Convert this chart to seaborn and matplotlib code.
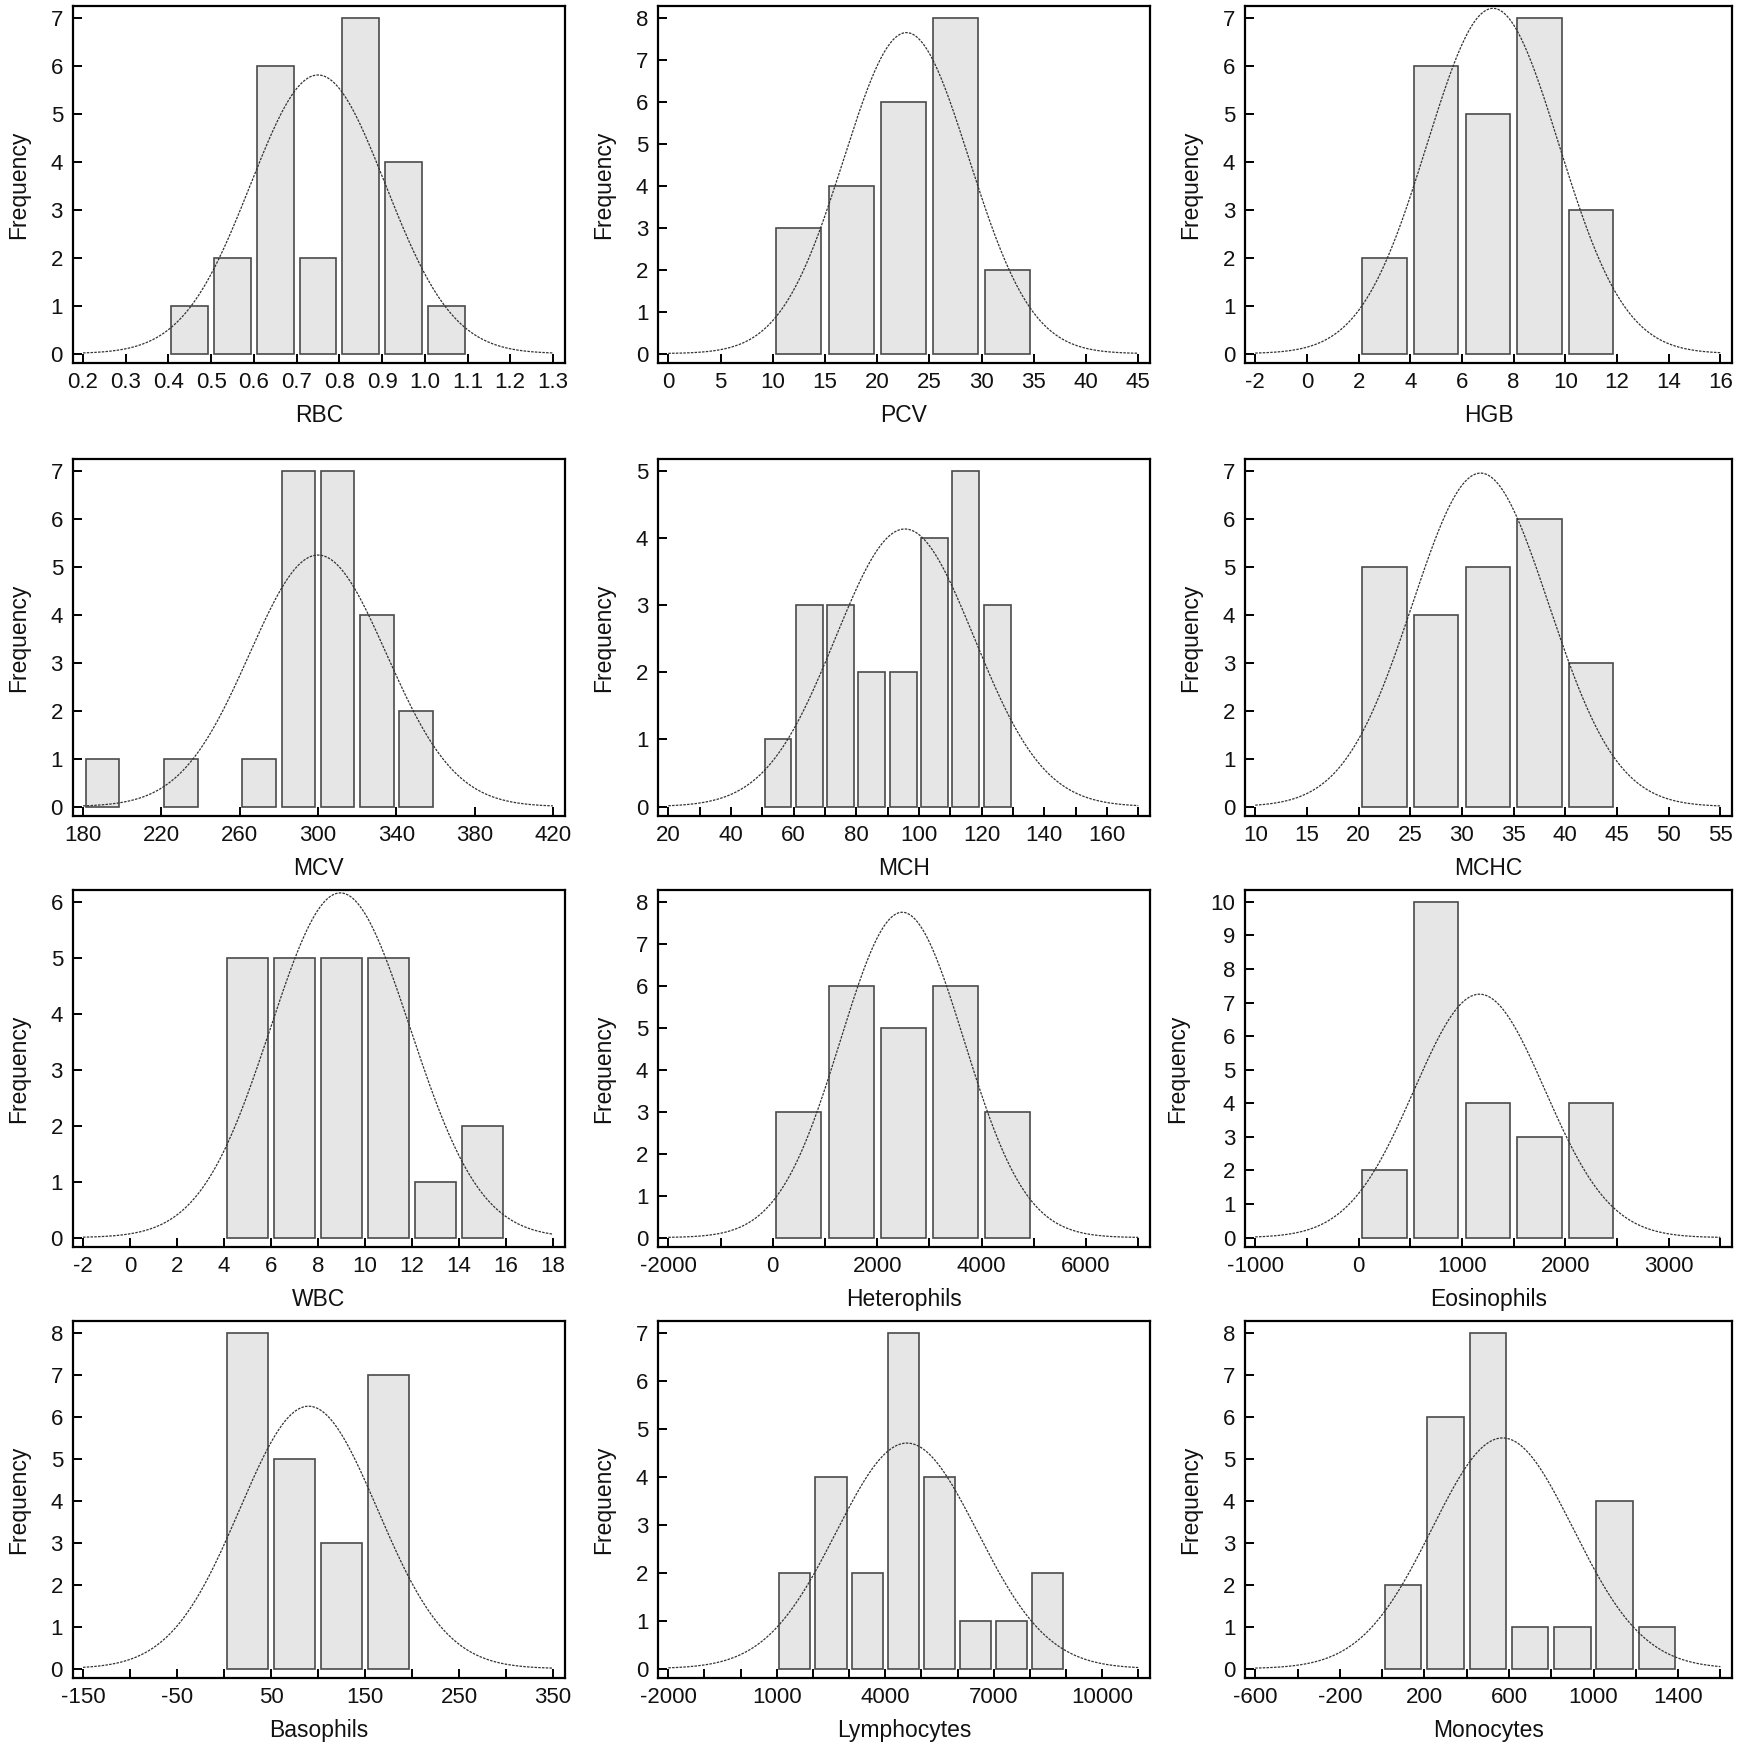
import numpy as np
import pandas as pd
import seaborn as sns
import matplotlib.pyplot as plt

# panel order: row by row, left to right
variables = ["RBC", "PCV", "HGB",
             "MCV", "MCH", "MCHC",
             "WBC", "Heterophils", "Eosinophils",
             "Basophils", "Lymphocytes", "Monocytes"]

# histogram bins: first edge and width, then the counts
bin_starts = [0.4, 10, 2, 180, 50, 20, 4, 0, 0, 0, 1000, 0]
bin_widths = [0.1, 5, 2, 20, 10, 5, 2, 1000, 500, 50, 1000, 200]
counts = [
    [1, 2, 6, 2, 7, 4, 1],
    [3, 4, 6, 8, 2],
    [2, 6, 5, 7, 3],
    [1, 0, 1, 0, 1, 7, 7, 4, 2],
    [1, 3, 3, 2, 2, 4, 5, 3],
    [5, 4, 5, 6, 3],
    [5, 5, 5, 5, 1, 2],
    [3, 6, 5, 6, 3],
    [2, 10, 4, 3, 4],
    [8, 5, 3, 7],
    [2, 4, 2, 7, 4, 1, 1, 2],
    [2, 6, 8, 1, 1, 4, 1],
]

# fitted normal curve (mean, sd) estimated from the drawn curves
fit_means = [0.75, 22.8, 7.2, 300, 95.5, 31.8, 8.95, 2480, 1170, 90, 4600, 570]
fit_sds = [0.158, 6.0, 2.55, 35.0, 22.2, 6.6, 2.98, 1184, 633, 73.4, 1952, 334]

# x ticks: first, last, step between tick marks, step between labels
xtick_lo = [0.2, 0, -2, 180, 20, 10, -2, -2000, -1000, -150, -2000, -600]
xtick_hi = [1.3, 45, 16, 420, 170, 55, 18, 7000, 3500, 350, 11000, 1600]
xtick_step = [0.1, 5, 2, 40, 10, 5, 2, 1000, 500, 50, 1000, 200]
xlabel_step = [0.1, 5, 2, 40, 20, 5, 2, 2000, 1000, 100, 3000, 400]
ytop = [7, 8, 7, 7, 5, 7, 6, 8, 10, 8, 7, 8]

W, H = 1750, 1748
col_left = [72.7, 658, 1245]
col_width = [492, 492, 487]
row_top = [6, 459, 890, 1321]
ax_h = 357

sns.set_style("ticks")
plt.rcParams["font.family"] = ["Liberation Sans", "DejaVu Sans"]

fig = plt.figure(figsize=(W / 100, H / 100), dpi=100)

for i, name in enumerate(variables):
    r, c = divmod(i, 3)
    ax = fig.add_axes([col_left[c] / W, 1 - (row_top[r] + ax_h) / H, col_width[c] / W, ax_h / H])

    n = len(counts[i])
    w = bin_widths[i]
    edges = [bin_starts[i] + w * k for k in range(n + 1)]
    df = pd.DataFrame({"value": [e + w / 2 for e in edges[:-1]], "count": counts[i]})
    sns.histplot(data=df, x="value", weights="count", bins=edges, shrink=0.86,
                 color="#e6e6e6", edgecolor="#4a4a4a", linewidth=1.2, alpha=1, ax=ax)
    for p in ax.patches:
        if p.get_height() == 0:
            p.set_visible(False)

    lo, hi = xtick_lo[i], xtick_hi[i]
    xs = np.linspace(lo, hi, 400)
    total = sum(counts[i])
    ys = total * w * np.exp(-0.5 * ((xs - fit_means[i]) / fit_sds[i]) ** 2) / (fit_sds[i] * np.sqrt(2 * np.pi))
    ax.plot(xs, ys, color="#333333", lw=0.9, ls=(0, (2, 1)), zorder=5)

    ticks = np.arange(lo, hi + xtick_step[i] / 2, xtick_step[i])
    labels = []
    for t in ticks:
        k = (t - lo) / xlabel_step[i]
        if abs(k - round(k)) < 1e-6:
            labels.append(f"{t:.1f}" if name == "RBC" else f"{t:.0f}")
        else:
            labels.append("")
    ax.set_xticks(ticks)
    ax.set_xticklabels(labels)
    span = hi - lo
    ax.set_xlim(lo - 0.022 * span, hi + 0.025 * span)

    T = ytop[i]
    ax.set_yticks(range(0, T + 1))
    ax.set_ylim(-0.028 * T, 1.035 * T)

    for s in ax.spines.values():
        s.set_visible(True)
        s.set_linewidth(1.6)
        s.set_color("black")
    ax.tick_params(axis="both", direction="in", length=6.7, width=1.4, color="black",
                   labelsize=16, labelcolor="#111111", bottom=True, left=True,
                   top=False, right=False)
    ax.tick_params(axis="x", pad=6.5)
    ax.tick_params(axis="y", pad=7)
    ax.set_xlabel(name, fontsize=16.5, labelpad=8, color="#111111")
    ax.set_ylabel("Frequency", fontsize=16.5, labelpad=15, color="#111111")

fig.savefig("out.png", dpi=100)
